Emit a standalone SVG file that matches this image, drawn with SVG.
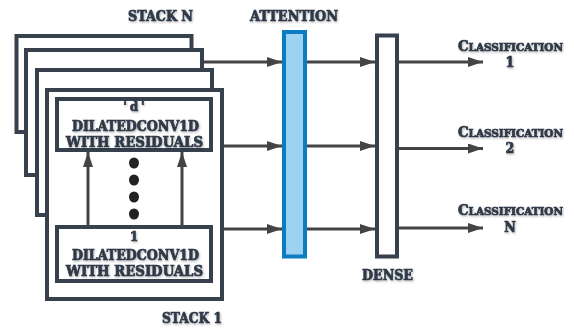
<svg xmlns="http://www.w3.org/2000/svg" width="574" height="329" viewBox="0 0 574 329">
<defs>
<filter id="sh" x="-10%" y="-10%" width="120%" height="130%"><feDropShadow dx="0.8" dy="1.2" stdDeviation="0.9" flood-color="#000" flood-opacity="0.3"/></filter>
<marker id="ah" markerUnits="userSpaceOnUse" markerWidth="16" markerHeight="12" refX="15" refY="5" orient="auto"><path d="M0,0 L15,5 L0,10 z" fill="#444"/></marker>
</defs>
<style>
.box{fill:#fff;stroke:#36414d;stroke-width:4}
.att{fill:#9dd3f0;stroke:#0c7cc1;stroke-width:4}
.ar{stroke:#444;stroke-width:3;fill:none;marker-end:url(#ah)}
.t{font-family:"DejaVu Serif Condensed","DejaVu Serif",serif;font-weight:bold;fill:#2e3a48;stroke:#2e3a48;stroke-width:0.7;text-anchor:middle;filter:url(#sh)}
.dot{fill:#222}
</style>
<rect width="574" height="329" fill="#fff"/>
<g id="stack-n-label"><text class="t" x="160.5" y="21" font-size="15" textLength="65" lengthAdjust="spacingAndGlyphs">STACK N</text></g>
<g id="stack-back1"><rect class="box" x="16.5" y="36" width="175" height="96"/></g>
<g id="stack-back2"><rect class="box" x="26" y="50" width="176" height="125"/></g>
<g id="stack-back3"><rect class="box" x="37" y="70" width="175" height="145"/></g>
<g id="stack-1"><rect class="box" x="47" y="90" width="175" height="209"/></g>
<g id="block-d"><rect class="box" x="57" y="99" width="154" height="51"/>
<text class="t" x="135.5" y="110.5" font-size="13" letter-spacing="3">'d'</text>
<text class="t" x="135.5" y="130.5" font-size="14" textLength="127" lengthAdjust="spacingAndGlyphs">DILATEDCONV1D</text>
<text class="t" x="134.5" y="146.5" font-size="14" textLength="137" lengthAdjust="spacingAndGlyphs">WITH RESIDUALS</text></g>
<g id="block-1"><rect class="box" x="57" y="227" width="154" height="54"/>
<text class="t" x="134" y="241" font-size="13">1</text>
<text class="t" x="135.5" y="260" font-size="14" textLength="127" lengthAdjust="spacingAndGlyphs">DILATEDCONV1D</text>
<text class="t" x="134.5" y="276" font-size="14" textLength="137" lengthAdjust="spacingAndGlyphs">WITH RESIDUALS</text></g>
<g id="dots"><ellipse class="dot" cx="134" cy="163" rx="5" ry="5.5"/><ellipse class="dot" cx="134" cy="180" rx="5" ry="5.5"/><ellipse class="dot" cx="134" cy="197" rx="5" ry="5.5"/><ellipse class="dot" cx="134" cy="214" rx="5" ry="5.5"/></g>
<g id="stack-1-label"><text class="t" x="192" y="323" font-size="15" textLength="60" lengthAdjust="spacingAndGlyphs">STACK 1</text></g>
<g id="attention"><rect class="att" x="284" y="32" width="21" height="224.5"/>
<text class="t" x="294" y="20.5" font-size="15" textLength="88" lengthAdjust="spacingAndGlyphs">ATTENTION</text></g>
<g id="dense"><rect class="box" x="377" y="35.5" width="20" height="221"/>
<text class="t" x="387.5" y="280" font-size="15" textLength="51" lengthAdjust="spacingAndGlyphs">DENSE</text></g>
<g id="cls-1"><text class="t" x="510.5" y="50.5" font-size="14" textLength="105" lengthAdjust="spacingAndGlyphs">C<tspan font-size="11">LASSIFICATION</tspan></text><text class="t" x="510" y="66.5" font-size="14">1</text></g>
<g id="cls-2"><text class="t" x="510.5" y="137" font-size="14" textLength="105" lengthAdjust="spacingAndGlyphs">C<tspan font-size="11">LASSIFICATION</tspan></text><text class="t" x="510" y="153" font-size="14">2</text></g>
<g id="cls-n"><text class="t" x="510.5" y="215" font-size="14" textLength="105" lengthAdjust="spacingAndGlyphs">C<tspan font-size="11">LASSIFICATION</tspan></text><text class="t" x="510" y="231.5" font-size="14">N</text></g>
<g id="connectors">
<line class="ar" x1="88" y1="227" x2="88" y2="152"/>
<line class="ar" x1="182" y1="227" x2="182" y2="152"/>
<line class="ar" x1="204" y1="62" x2="282" y2="62"/>
<line class="ar" x1="224" y1="146" x2="282" y2="146"/>
<line class="ar" x1="224" y1="229" x2="282" y2="229"/>
<line class="ar" x1="307" y1="62" x2="375" y2="62"/>
<line class="ar" x1="307" y1="146" x2="375" y2="146"/>
<line class="ar" x1="307" y1="229" x2="375" y2="229"/>
<line class="ar" x1="399" y1="62" x2="483" y2="62"/>
<line class="ar" x1="399" y1="148.5" x2="483" y2="148.5"/>
<line class="ar" x1="399" y1="228" x2="483" y2="228"/>
</g>
</svg>
